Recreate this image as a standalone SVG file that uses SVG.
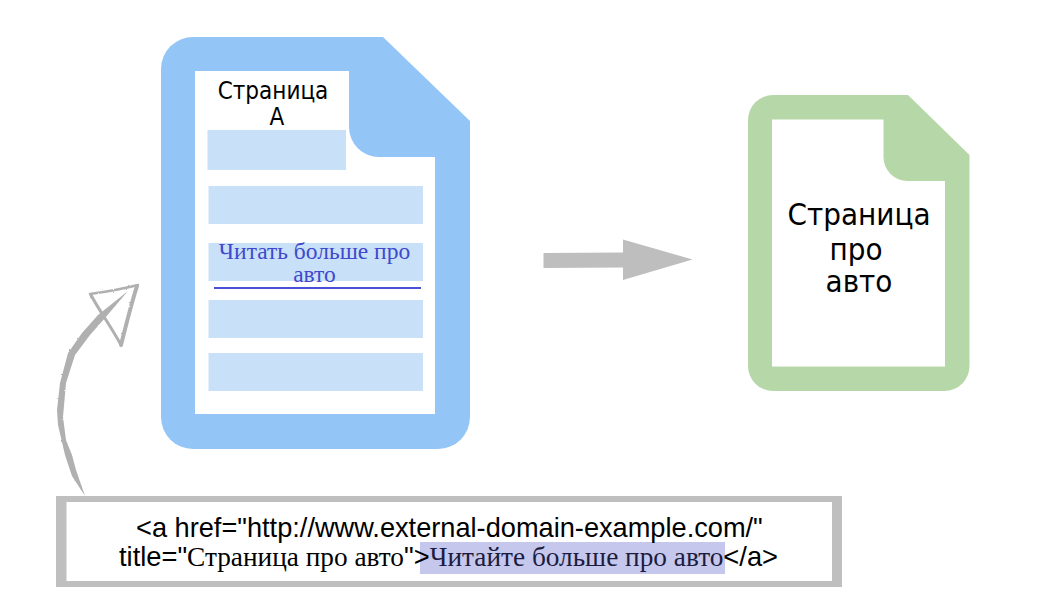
<svg xmlns="http://www.w3.org/2000/svg" width="1042" height="610" viewBox="0 0 1042 610">
<style>
.bar{fill:#c8e1f9}
.page{font-family:"DejaVu Sans",sans-serif;font-stretch:condensed;fill:#000;text-anchor:middle}
.link{font-family:"Liberation Serif",serif;font-size:23.500px;fill:#4048cc;text-anchor:middle}
.code{font-family:"Liberation Sans",sans-serif;fill:#000}
.ser{font-family:"Liberation Serif",serif}
.sk{fill:none;stroke:#b0b0b0;stroke-linecap:round;stroke-linejoin:round}
</style>
<defs>
<filter id="rough" x="-10%" y="-10%" width="120%" height="120%">
<feTurbulence type="fractalNoise" baseFrequency="0.25" numOctaves="2" seed="4" result="n"/>
<feDisplacementMap in="SourceGraphic" in2="n" scale="2"/>
</filter>
</defs>
<rect width="1042" height="610" fill="#fff"/>
<g id="page-a">
<path fill="#93c6f6" d="M193 37H383L470 121V417A32 32 0 0 1 438 449H193A32 32 0 0 1 161 417V69A32 32 0 0 1 193 37Z"/>
<path fill="#fff" d="M195 71H349V127A30 30 0 0 0 379 157H435V414H195Z"/>
<text class="page" font-size="24" x="273" y="99">Страница</text>
<text class="page" font-size="24" x="277" y="125">А</text>
<rect class="bar" x="207.500" y="130" width="138.500" height="40"/>
<rect class="bar" x="208.500" y="186" width="214.500" height="38"/>
<rect class="bar" x="208.500" y="243" width="214.500" height="38"/>
<rect class="bar" x="208.500" y="300" width="214.500" height="38"/>
<rect class="bar" x="208.500" y="353" width="214.500" height="38"/>
<text class="link" x="314.500" y="259">Читать больше про</text>
<text class="link" x="314.500" y="282">авто</text>
<rect x="214" y="287" width="207" height="2" fill="#4a4fd8"/>
</g>
<g id="page-auto">
<path fill="#b6d7a8" d="M773 95H908L969.500 155V366A25 25 0 0 1 944.500 391H773A25 25 0 0 1 748 366V120A25 25 0 0 1 773 95Z"/>
<path fill="#fff" d="M772 119.500H883.500V157A24 24 0 0 0 907.500 181H945V366.500H772Z"/>
<text class="page" font-size="31" x="859" y="225">Страница</text>
<text class="page" font-size="31" x="856" y="260">про</text>
<text class="page" font-size="31" x="859" y="292">авто</text>
</g>
<g id="connectors">
<path fill="#bebebe" d="M543.500 253L623 252.500V239.500L692.500 259.500L623 280V267.500L543.500 268Z"/>
<g filter="url(#rough)">
<path fill="#b0b0b0" d="M85 496L72 476L65 455L58 425L57 410L60 383L68 353L82 333L98 315L128 291L105 318L90 335L75 355L66 383L63 417L66 440L72 455L76 470Z"/>
<path class="sk" stroke-width="2.500" d="M90 294C105 292 122 289 138 285"/>
<path class="sk" stroke-width="4" d="M137 286C131 305 126 325 121 345"/>
<path class="sk" stroke-width="3" d="M121 345C112 328 100 312 91 295"/>
</g>
</g>
<g id="code">
<path fill="#bfbfbf" fill-rule="evenodd" d="M56 496H842V587H56ZM66.500 502V581H832V502Z"/>
<rect x="420" y="542" width="305" height="32" fill="#c5c7ec"/>
<text class="code" font-size="27.200" x="136" y="537">&lt;a href="http://www.external-domain-example.com/"</text>
<text class="code" font-size="27.300" x="119" y="566">title="<tspan class="ser">Страница про авто</tspan>"&gt;<tspan class="ser" fill="#1c1c40">Читайте больше про авто</tspan>&lt;/a&gt;</text>
</g>
</svg>
